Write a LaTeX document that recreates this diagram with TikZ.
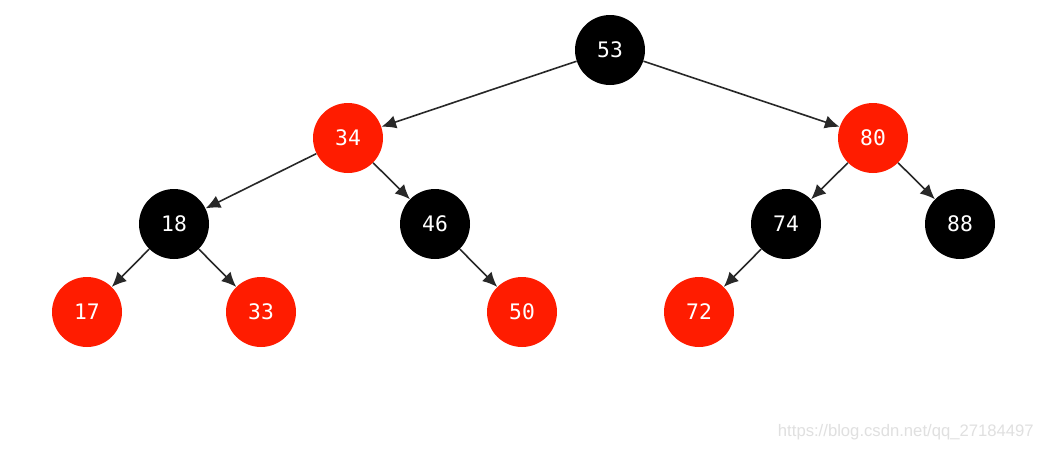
\documentclass[tikz,border=0pt]{standalone}
\usepackage{fontspec}
\newfontfamily\monofont{DejaVu Sans Mono}
\newfontfamily\wmfont{Liberation Sans}
\usetikzlibrary{arrows.meta}
\definecolor{rbred}{RGB}{255,28,0}
\definecolor{edgegray}{RGB}{40,40,40}
\tikzset{
  rbnode/.style={circle, minimum size=52.5pt, inner sep=0pt, text=white, font=\monofont\fontsize{16}{18}\selectfont},
  blk/.style={rbnode, fill=black},
  rd/.style={rbnode, fill=rbred},
  edge/.style={draw=edgegray, line width=1.2pt, -{Latex[length=11pt,width=10pt]}},
}
\begin{document}
\begin{tikzpicture}[x=0.75pt,y=-0.75pt]
\useasboundingbox[fill=white] (0,0) rectangle (1043,451);
\node[blk] (n53) at (610,50) {53};
\node[rd]  (n34) at (348,138) {34};
\node[rd]  (n80) at (873,138) {80};
\node[blk] (n18) at (174,224) {18};
\node[blk] (n46) at (435,224) {46};
\node[blk] (n74) at (786,224) {74};
\node[blk] (n88) at (960,224) {88};
\node[rd]  (n17) at (87,312) {17};
\node[rd]  (n33) at (261,312) {33};
\node[rd]  (n50) at (522,312) {50};
\node[rd]  (n72) at (699,312) {72};
\draw[edge] (n53) -- (n34);
\draw[edge] (n53) -- (n80);
\draw[edge] (n34) -- (n18);
\draw[edge] (n34) -- (n46);
\draw[edge] (n80) -- (n74);
\draw[edge] (n80) -- (n88);
\draw[edge] (n18) -- (n17);
\draw[edge] (n18) -- (n33);
\draw[edge] (n46) -- (n50);
\draw[edge] (n74) -- (n72);
\node[anchor=east, text=black!12, font=\wmfont\fontsize{12.5}{14}\selectfont, inner sep=0pt] (wm) at (1034,432) {https://blog.csdn.net/qq\_27184497};
\end{tikzpicture}
\end{document}
